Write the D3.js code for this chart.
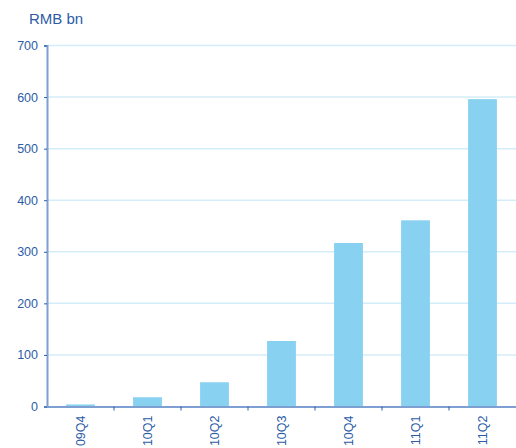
<!DOCTYPE html>
<html lang="en">
  <head>
    <meta charset="UTF-8" />
    <title>RMB bn</title>
    <style>
      body {
        margin: 0;
        background: #fff;
      }
      * {
        font-family: "Liberation Sans", Arial, sans-serif;
      }
      .axis text {
        fill: #2d5ca6;
        font-size: 12.5px;
        font-family: "Liberation Sans", Arial, sans-serif;
      }
      .bar {
        fill: #88d1f1;
      }
    </style>
    <script src="https://cdn.jsdelivr.net/npm/d3@7/dist/d3.min.js"></script>
  </head>
  <body>
    <div class="chart-box"></div>
    <script>
      const categories = ["09Q4", "10Q1", "10Q2", "10Q3", "10Q4", "11Q1", "11Q2"];
      const values = [4, 18, 47, 127, 317, 361, 596];
      const yTicks = [0, 100, 200, 300, 400, 500, 600, 700];

      const W = 516,
        H = 448;
      const margin = { top: 45.5, right: 0, bottom: 41.5, left: 47 };
      const width = W - margin.left - margin.right;
      const height = H - margin.top - margin.bottom;

      const svg = d3
        .select(".chart-box")
        .append("svg")
        .attr("width", W)
        .attr("height", H);

      const x = d3.scaleBand().domain(categories).range([0, width]).padding(0);
      const y = d3.scaleLinear().domain([0, 700]).range([height, 0]);

      const g = svg
        .append("g")
        .attr("transform", "translate(" + margin.left + "," + margin.top + ")");

      // title
      svg
        .append("text")
        .attr("x", 29)
        .attr("y", 24)
        .attr("fill", "#2d5ca6")
        .style("font-size", "15px")
        .text("RMB bn");

      // grid
      g.append("g")
        .selectAll("line")
        .data(yTicks.filter((d) => d > 0))
        .enter()
        .append("line")
        .attr("x1", 0)
        .attr("x2", width)
        .attr("y1", (d) => y(d))
        .attr("y2", (d) => y(d))
        .attr("stroke", "#d4eef9")
        .attr("stroke-width", 1.5);

      // bars
      const barW = x.bandwidth() * 0.43;
      g.selectAll(".bar")
        .data(values)
        .enter()
        .append("rect")
        .attr("class", "bar")
        .attr("x", (d, i) => x(categories[i]) + (x.bandwidth() - barW) / 2)
        .attr("y", (d) => y(d))
        .attr("width", barW)
        .attr("height", (d) => height - y(d));

      // y axis
      const yAxis = g
        .append("g")
        .attr("class", "axis")
        .call(d3.axisLeft(y).tickValues(yTicks).tickSize(3).tickPadding(6));
      yAxis.select(".domain").attr("stroke", "#7d9fd1").attr("stroke-width", 2);
      yAxis.selectAll(".tick line").attr("stroke", "#2d5ca6");

      // x axis
      const xAxis = g
        .append("g")
        .attr("class", "axis")
        .attr("transform", "translate(0," + height + ")")
        .call(d3.axisBottom(x).tickSize(0).tickSizeOuter(0).tickPadding(0));
      xAxis.select(".domain").attr("stroke", "#7d9fd1").attr("stroke-width", 2);
      xAxis
        .selectAll(".tick text")
        .attr("transform", "rotate(-90)")
        .attr("text-anchor", "end")
        .attr("x", -9)
        .attr("y", 0)
        .attr("dy", "0.35em");

      // ticks between categories
      g.append("g")
        .selectAll("line")
        .data(categories.slice(1))
        .enter()
        .append("line")
        .attr("x1", (d) => x(d))
        .attr("x2", (d) => x(d))
        .attr("y1", height)
        .attr("y2", height + 4)
        .attr("stroke", "#2d5ca6");
    </script>
  </body>
</html>
